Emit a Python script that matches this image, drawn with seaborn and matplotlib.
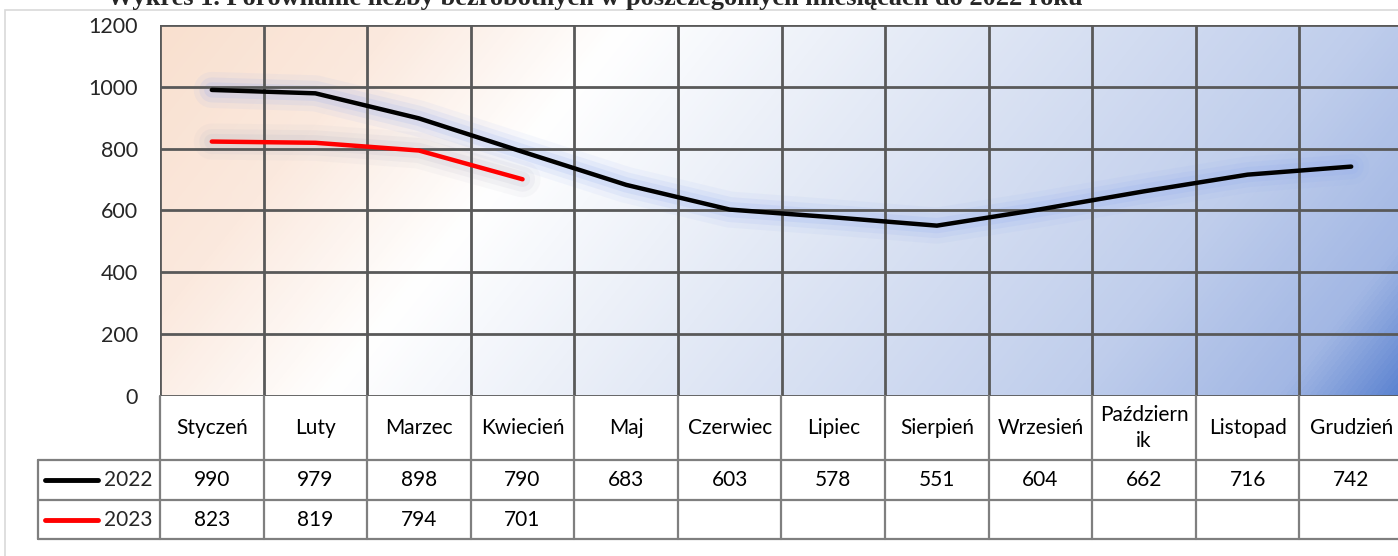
import numpy as np
import pandas as pd
import matplotlib.pyplot as plt
import seaborn as sns
from matplotlib.colors import LinearSegmentedColormap
from matplotlib.patches import Rectangle

# ── DATA ─────────────────────────────────────────────────────────────────────
months = ["Styczeń", "Luty", "Marzec", "Kwiecień", "Maj", "Czerwiec",
          "Lipiec", "Sierpień", "Wrzesień", "Październ\nik", "Listopad", "Grudzień"]
v2022 = [990, 979, 898, 790, 683, 603, 578, 551, 604, 662, 716, 742]
v2023 = [823, 819, 794, 701]
series = ["2022", "2023"]
colors = ["#000000", "#FF0000"]
yticks = [0, 200, 400, 600, 800, 1000, 1200]
title = "Wykres 1. Porównanie liczby bezrobotnych w poszczególnych miesiącach do 2022 roku"

df = pd.concat([
    pd.DataFrame({"m": range(len(v2022)), "val": v2022, "rok": "2022"}),
    pd.DataFrame({"m": range(len(v2023)), "val": v2023, "rok": "2023"}),
])

# ── STYLE ────────────────────────────────────────────────────────────────────
sns.set_theme(style="white")
plt.rcParams["font.family"] = ["Lato", "DejaVu Sans"]
FS = 15

W, H = 1398, 556
fig = plt.figure(figsize=(W / 100, H / 100), dpi=100)

# outer chart border
fig.patches.append(Rectangle((5 / W, -0.1), 1.1, (H - 10) / H + 0.1,
                             transform=fig.transFigure, fill=False,
                             edgecolor="#D9D9D9", lw=1.2))

ax_l, ax_r, ax_t, ax_b = 160, 1403, 25, 396
ax = fig.add_axes([ax_l / W, 1 - ax_b / H, (ax_r - ax_l) / W, (ax_b - ax_t) / H])

# ── BACKGROUND GRADIENT ─────────────────────────────────────────────────────
grad = LinearSegmentedColormap.from_list("bg", [
    (0.00, (249 / 255, 224 / 255, 207 / 255)),
    (0.15, (251 / 255, 233 / 255, 222 / 255)),
    (0.30, (1.0, 1.0, 1.0)),
    (0.50, (228 / 255, 234 / 255, 246 / 255)),
    (0.78, (192 / 255, 206 / 255, 236 / 255)),
    (0.92, (162 / 255, 183 / 255, 228 / 255)),
    (1.00, (88 / 255, 128 / 255, 208 / 255)),
])
pw, ph = ax_r - ax_l, ax_b - ax_t
xx, yy = np.meshgrid(np.arange(pw), np.arange(ph))
s = (xx + 0.8 * yy) / (pw + 0.8 * ph)
ax.imshow(s, cmap=grad, extent=(-0.5, 11.5, 0, 1200), aspect="auto",
          origin="upper", zorder=0, vmin=0, vmax=1)

# ── LINES WITH GLOW ─────────────────────────────────────────────────────────
for rok in series:
    sub = df[df["rok"] == rok]
    glow = "#8FAAF0" if rok == "2022" else "#B8B8C8"
    for lw, a in [(26, 0.08), (18, 0.12), (11, 0.16)]:
        ax.plot(sub["m"], sub["val"], color=glow, lw=lw, alpha=a,
                solid_capstyle="round", solid_joinstyle="round", zorder=2)
sns.lineplot(data=df, x="m", y="val", hue="rok", palette=colors, lw=3.2,
             legend=False, ax=ax, zorder=4, solid_capstyle="round")

# ── GRID / AXES ─────────────────────────────────────────────────────────────
ax.set_xlim(-0.5, 11.5)
ax.set_ylim(0, 1200)
for y in yticks:
    ax.axhline(y, color="#595959", lw=2, zorder=3)
for k in range(13):
    ax.axvline(-0.5 + k, color="#595959", lw=2, zorder=3)
for sp in ax.spines.values():
    sp.set_visible(False)
ax.set_xticks([])
ax.set_yticks(yticks)
ax.set_yticklabels([str(v) for v in yticks], fontsize=FS + 0.5)
ax.tick_params(axis="y", length=0, pad=16)
ax.set_xlabel("")
ax.set_ylabel("")

# ── DATA TABLE ──────────────────────────────────────────────────────────────
colw = (ax_r - ax_l) / 12.0
t_l, t_b = 38, 539
xmin = -0.5 - (ax_l - t_l) / colw
tax = fig.add_axes([t_l / W, 1 - t_b / H, (ax_r - t_l) / W, (t_b - ax_b) / H])
tax.set_xlim(xmin, 11.5)
tax.set_ylim(t_b, ax_b)
tax.axis("off")
tcol = "#7F7F7F"
for k in range(13):
    tax.plot([-0.5 + k, -0.5 + k], [ax_b, t_b], color=tcol, lw=1.6, clip_on=False)
tax.plot([xmin, xmin], [460, t_b], color=tcol, lw=1.6, clip_on=False)
for y in [460, 500, t_b]:
    tax.plot([xmin, 11.5], [y, y], color=tcol, lw=1.6, clip_on=False)

for i, m in enumerate(months):
    tax.text(i, 428, m, ha="center", va="center", fontsize=FS,
             linespacing=1.35, color="black")
for vals, yc in [(v2022, 480), (v2023, 520)]:
    for i, v in enumerate(vals):
        tax.text(i, yc, str(v), ha="center", va="center", fontsize=FS, color="black")

for rok, col, yc in zip(series, colors, [480, 520]):
    x0 = xmin + (45 - t_l) / colw
    x1 = xmin + (98 - t_l) / colw
    tax.plot([x0, x1], [yc, yc], color=col, lw=3.5, solid_capstyle="round",
             clip_on=False)
    tax.text(-0.5 - 7 / colw, yc, rok, ha="right", va="center", fontsize=FS)

# ── TITLE ───────────────────────────────────────────────────────────────────
fig.text(595 / W, 1 - 5 / H, title, ha="center", va="baseline",
         family=["Liberation Serif", "DejaVu Serif"], weight="bold", fontsize=19)

plt.savefig("out.png", dpi=100)
